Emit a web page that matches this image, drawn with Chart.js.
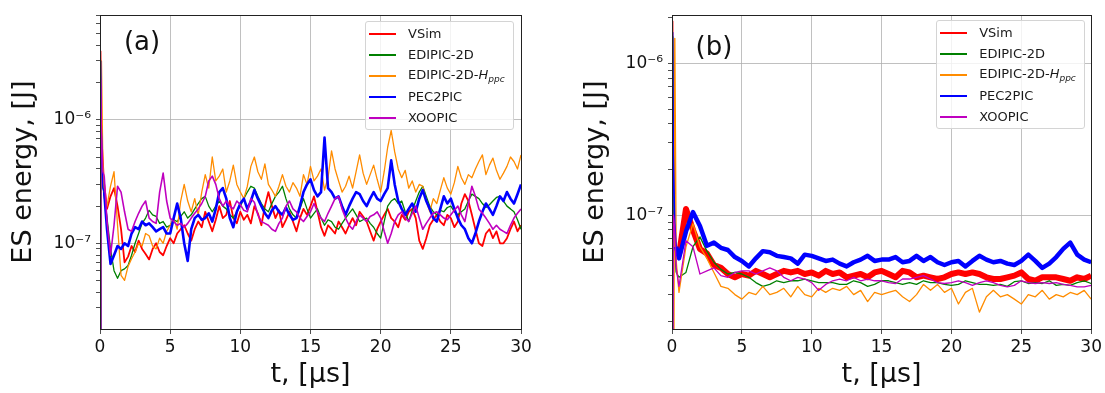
<!DOCTYPE html>
<html>
<head>
<meta charset="utf-8">
<script src="https://cdn.jsdelivr.net/npm/chart.js@4.4.1/dist/chart.umd.min.js"></script>
<style>
    body { margin: 0; background: #fff; font-family: 'DejaVu Sans', sans-serif; }
    #wrap { position: relative; width: 1105px; height: 393px; overflow: hidden; }
    .panel { position: absolute; top: 0; height: 393px; }
    .panel canvas { position: absolute; left: 0; top: 0; }
    .legend {
        position: absolute; width: 149px; height: 109px; box-sizing: border-box;
        border: 1px solid #d4d4d4; border-radius: 3px; background: rgba(255,255,255,0.8);
        padding-top: 1px; font-size: 13px; color: #1a1a1a;
    }
    .row { display: flex; align-items: center; height: 21px; white-space: nowrap; }
    .swatch { width: 27px; height: 0; border-top: 2px solid; margin: 0 12px 0 3px; }
    .row sub { font-size: 9px; font-style: italic; vertical-align: -3px; }
    .tag { position: absolute; font-size: 26px; line-height: 1; color: #111; transform: translate(-50%, -50%); }
</style>
</head>
<body>
<div id="wrap">
    <div class="panel" style="left:0;width:552px">
        <canvas id="chartA" width="552" height="393"></canvas>
        <div class="legend" id="legendA"></div>
        <div class="tag" id="tagA">(a)</div>
    </div>
    <div class="panel" style="left:552px;width:553px">
        <canvas id="chartB" width="553" height="393"></canvas>
        <div class="legend" id="legendB"></div>
        <div class="tag" id="tagB">(b)</div>
    </div>
</div>
<script>
// Codes compared in both panels (legend order)
const seriesNames = ['VSim', 'EDIPIC-2D', 'EDIPIC-2D-H_ppc', 'PEC2PIC', 'XOOPIC'];
const seriesColors = ['#ff0000', '#008000', '#ff8c00', '#0000ff', '#bf00bf'];

// ES energy values are in units of 1e-7 J
const UNIT = 1e-7;

// ---- panel (a): time axis, microseconds
const TA = [0, 0.05, 0.1, 0.2, 0.3,
    0.5, 0.75,
    1, 1.25, 1.5, 1.75, 2, 2.25, 2.5, 2.75, 3, 3.25, 3.5, 3.75,
    4, 4.25, 4.5, 4.75, 5, 5.25, 5.5, 5.75, 6, 6.25, 6.5, 6.75,
    7, 7.25, 7.5, 7.75, 8, 8.25, 8.5, 8.75, 9, 9.25, 9.5, 9.75,
    10, 10.25, 10.5, 10.75, 11, 11.25, 11.5, 11.75, 12, 12.25, 12.5, 12.75,
    13, 13.25, 13.5, 13.75, 14, 14.25, 14.5, 14.75, 15, 15.25, 15.5, 15.75,
    16, 16.25, 16.5, 16.75, 17, 17.25, 17.5, 17.75, 18, 18.25, 18.5, 18.75,
    19, 19.25, 19.5, 19.75, 20, 20.25, 20.5, 20.75, 21, 21.25, 21.5, 21.75,
    22, 22.25, 22.5, 22.75, 23, 23.25, 23.5, 23.75, 24, 24.25, 24.5, 24.75,
    25, 25.25, 25.5, 25.75, 26, 26.25, 26.5, 26.75, 27, 27.25, 27.5, 27.75,
    28, 28.25, 28.5, 28.75, 29, 29.25, 29.5, 29.75, 30];

const vsimA = [0.01, 36, 8, 5, 3,
    1.9, 2.4,
    2.8, 2.0, 1.3, 0.7, 0.78, 0.95, 0.85, 1.05, 0.9, 0.82, 0.74, 0.9,
    1.0, 0.85, 0.8, 0.95, 1.1, 1.0, 1.2, 1.3, 1.4, 1.2, 1.05, 1.3,
    1.5, 1.35, 1.8, 1.5, 1.25, 1.55, 2.0, 1.6, 1.7, 2.2, 1.6, 1.45,
    1.8, 1.55, 1.7, 1.45, 2.0, 1.75, 1.4, 2.0, 2.6, 2.0, 1.6, 1.85,
    1.35, 1.55, 1.8, 1.5, 1.25, 1.6, 1.9, 1.7, 2.0, 2.4, 1.8, 1.35,
    1.15, 1.4, 1.3, 1.2, 1.5, 1.35, 1.2, 1.4, 1.6, 1.4, 1.8, 1.65,
    1.5, 1.25, 1.05, 1.3, 1.5, 1.7, 1.9, 1.6, 1.5, 1.35, 1.7, 1.55,
    1.8, 1.9, 1.6, 1.05, 0.9, 1.1, 1.4, 1.55, 1.7, 1.5, 1.4, 1.7,
    1.6, 1.35, 1.5, 2.1, 2.5, 2.2, 1.7, 1.3, 1.0, 0.95, 1.2, 1.3,
    1.1, 1.25, 1.0, 1.0, 1.1, 1.3, 1.5, 1.25, 1.4];
const edipicA = [0.01, 26, 6, 3.0, 2.4,
    1.6, 0.9,
    0.6, 0.52, 0.6, 0.62, 0.66, 0.8, 1.0, 1.2, 1.45, 1.6, 1.85, 1.7,
    1.65, 1.45, 1.5, 1.35, 1.4, 1.55, 1.5, 1.65, 1.8, 1.6, 1.7, 1.9,
    2.1, 2.3, 2.4, 2.0, 1.8, 2.0, 2.2, 2.0, 1.9, 1.7, 1.6, 1.8,
    2.0, 2.3, 2.6, 2.9, 2.8, 2.4, 2.1, 1.9, 1.8, 2.1, 2.4, 2.6,
    2.9, 2.3, 1.9, 1.7, 1.6, 1.9, 2.3, 1.9, 1.6, 1.75, 1.9, 1.6,
    1.4, 1.55, 1.5, 1.35, 1.3, 1.45, 1.6, 1.75, 1.9, 1.7, 1.5, 1.55,
    1.6, 1.45, 1.35, 1.2, 1.1, 1.5, 2.0, 2.2, 2.3, 2.1, 2.2, 1.8,
    1.5, 1.85, 2.2, 2.6, 2.9, 2.4, 2.0, 1.8, 1.7, 1.85, 1.8, 1.95,
    2.0, 1.8, 1.7, 1.8, 1.9, 2.2, 2.5, 2.4, 2.3, 2.1, 1.95, 2.05,
    2.2, 2.35, 2.4, 2.2, 2.0, 1.9, 1.8, 1.55, 1.3];
const hppcA = [0.01, 0.01, 30, 4.5, 2.6,
    2.0, 2.9,
    3.8, 1.4, 0.55, 0.5, 0.65, 0.75, 0.85, 1.0, 0.95, 1.2, 1.15, 0.95,
    0.9, 1.1, 1.0, 1.25, 1.4, 1.6, 1.3, 2.2, 3.0, 2.2, 1.8, 2.3,
    1.7, 2.6, 3.6, 2.8, 5.0, 3.2, 3.5, 4.0, 2.6, 3.2, 4.3, 3.0,
    2.6, 2.3, 2.9, 4.2, 5.0, 3.8, 3.3, 4.4, 3.0, 2.7, 2.4, 2.9,
    3.6, 2.9, 2.6, 3.1, 2.8, 2.4, 3.6, 3.0, 4.2, 3.2, 3.5, 4.0,
    2.7, 3.4, 5.6, 4.0, 3.2, 2.6, 2.9, 3.5, 2.8, 3.8, 5.2, 3.7,
    3.0, 3.6, 4.3, 3.3, 2.6, 3.8, 6.0, 8.2, 5.5, 4.0, 3.4, 3.9,
    2.8, 3.2, 2.6, 3.0, 2.9, 2.2, 1.8, 2.3, 2.1, 2.7, 3.4, 2.8,
    2.5, 3.1, 4.2, 3.4, 3.0, 3.6, 3.4, 4.0, 4.6, 5.2, 3.6, 4.3,
    4.9, 3.9, 3.3, 3.7, 4.2, 5.0, 4.6, 4.0, 5.2];
const pecA = [0.01, 30, 8, 2.8, 2.6,
    1.3, 0.68,
    0.8, 0.95, 0.9, 1.0, 0.95, 1.2, 1.35, 1.3, 1.5, 1.4, 1.45, 1.35,
    1.25, 1.3, 1.35, 1.2, 1.2, 1.6, 2.1, 1.6, 1.0, 0.72, 1.3, 1.6,
    1.7, 1.55, 1.6, 1.75, 1.5, 1.9, 2.6, 2.8, 2.3, 1.6, 1.35, 1.8,
    2.1, 2.3, 1.9, 2.2, 2.7, 2.3, 2.0, 1.75, 1.6, 1.85, 2.0, 1.8,
    1.7, 1.95, 1.7, 1.55, 1.6, 2.0, 2.6, 3.0, 3.3, 2.7, 2.4, 2.6,
    7.2, 2.8, 2.6, 2.3, 2.4, 2.0, 1.7, 2.0, 2.3, 2.6, 2.5, 2.2,
    2.0, 2.3, 2.6, 2.3, 2.2, 2.5, 2.8, 4.7, 3.0, 2.2, 1.9, 1.7,
    1.9, 2.1, 1.8, 2.3, 2.7, 2.2, 1.9, 1.6, 1.5, 1.9, 2.4, 2.1,
    2.3, 1.9, 1.6, 1.4, 1.3, 1.1, 1.0, 1.2, 1.5, 1.8, 2.1, 1.9,
    1.7, 2.0, 2.4, 2.2, 2.6, 2.3, 2.1, 2.5, 3.0];
const xoopicA = [0.01, 21, 8, 3.8, 3.5,
    1.5, 0.8,
    1.4, 2.9, 2.6, 1.8, 1.3, 1.25, 1.5, 1.75, 2.0, 2.2, 1.6, 1.5,
    1.45, 2.6, 3.7, 2.2, 1.6, 1.5, 1.4, 1.45, 1.35, 1.45, 1.6, 1.75,
    1.9, 2.1, 2.4, 3.2, 3.5, 3.0, 2.3, 2.0, 2.2, 2.0, 1.9, 2.2,
    2.05, 1.85, 1.8, 2.3, 2.15, 1.7, 1.5, 1.45, 1.4, 1.3, 1.25, 1.45,
    1.6, 2.0, 2.2, 1.9, 1.8, 1.6, 1.5, 1.65, 1.8, 2.1, 1.8, 1.6,
    1.5, 1.75, 2.0, 2.3, 2.4, 1.9, 1.6, 1.4, 1.3, 1.5, 1.7, 1.6,
    1.5, 1.65, 1.7, 1.8, 1.6, 1.25, 1.0, 1.2, 1.5, 1.7, 1.8, 1.6,
    1.5, 1.75, 2.0, 1.6, 1.3, 1.45, 1.6, 1.75, 1.8, 1.7, 1.6, 1.55,
    1.7, 1.85, 2.0, 1.7, 1.5, 2.1, 2.9, 2.4, 1.9, 1.75, 1.6, 1.45,
    1.3, 1.4, 1.3, 1.25, 1.2, 1.4, 1.6, 1.75, 1.9];

// ---- panel (b): time axis, microseconds
const TB = [0, 0.05, 0.1, 0.2, 0.3,
    0.5, 1, 1.5, 2, 2.5, 3, 3.5, 4, 4.5, 5,
    5.5, 6, 6.5, 7, 7.5, 8, 8.5, 9, 9.5, 10,
    10.5, 11, 11.5, 12, 12.5, 13, 13.5, 14, 14.5, 15,
    15.5, 16, 16.5, 17, 17.5, 18, 18.5, 19, 19.5, 20,
    20.5, 21, 21.5, 22, 22.5, 23, 23.5, 24, 24.5, 25,
    25.5, 26, 26.5, 27, 27.5, 28, 28.5, 29, 29.5, 30];

const vsimB = [0.01, 19, 2.0, 0.8, 0.6,
    0.55, 1.1, 0.8, 0.60, 0.56, 0.47, 0.45, 0.41, 0.39, 0.41,
    0.40, 0.43, 0.41, 0.39, 0.41, 0.43, 0.42, 0.43, 0.41, 0.42,
    0.40, 0.43, 0.41, 0.42, 0.39, 0.40, 0.41, 0.39, 0.42, 0.43,
    0.41, 0.39, 0.43, 0.42, 0.39, 0.40, 0.39, 0.38, 0.39, 0.41,
    0.42, 0.41, 0.42, 0.41, 0.39, 0.38, 0.38, 0.39, 0.40, 0.42,
    0.38, 0.37, 0.39, 0.39, 0.39, 0.38, 0.37, 0.39, 0.38, 0.40];
const edipicB = [0.01, 15, 1.5, 0.6, 0.42,
    0.39, 0.42, 0.62, 0.72, 0.58, 0.49, 0.44, 0.41, 0.42, 0.41,
    0.39, 0.36, 0.34, 0.35, 0.37, 0.36, 0.37, 0.37, 0.38, 0.37,
    0.36, 0.36, 0.36, 0.35, 0.35, 0.37, 0.36, 0.34, 0.35, 0.37,
    0.37, 0.36, 0.35, 0.36, 0.35, 0.37, 0.36, 0.36, 0.35, 0.345,
    0.35, 0.37, 0.36, 0.35, 0.35, 0.345, 0.35, 0.34, 0.365, 0.37,
    0.355, 0.36, 0.355, 0.37, 0.345, 0.35, 0.345, 0.36, 0.37, 0.355];
const hppcB = [0.01, 0.01, 0.01, 14.6, 0.5,
    0.31, 0.62, 0.88, 0.62, 0.52, 0.42, 0.34, 0.33, 0.30, 0.28,
    0.31, 0.30, 0.34, 0.30, 0.31, 0.33, 0.29, 0.34, 0.30, 0.29,
    0.33, 0.31, 0.33, 0.32, 0.34, 0.30, 0.32, 0.27, 0.31, 0.30,
    0.31, 0.32, 0.29, 0.27, 0.30, 0.35, 0.32, 0.35, 0.31, 0.33,
    0.26, 0.31, 0.33, 0.23, 0.29, 0.32, 0.29, 0.30, 0.28, 0.26,
    0.30, 0.29, 0.32, 0.28, 0.30, 0.29, 0.31, 0.30, 0.32, 0.28];
const pecB = [0.01, 16, 2.5, 0.9, 0.62,
    0.52, 0.78, 1.05, 0.85, 0.63, 0.66, 0.61, 0.59, 0.53, 0.50,
    0.46, 0.52, 0.58, 0.57, 0.54, 0.53, 0.52, 0.48, 0.55, 0.54,
    0.52, 0.50, 0.51, 0.48, 0.46, 0.49, 0.51, 0.54, 0.50, 0.51,
    0.51, 0.53, 0.49, 0.50, 0.54, 0.50, 0.53, 0.49, 0.47, 0.49,
    0.50, 0.46, 0.50, 0.54, 0.51, 0.49, 0.50, 0.48, 0.47, 0.50,
    0.55, 0.50, 0.45, 0.48, 0.53, 0.60, 0.66, 0.55, 0.51, 0.49];
const xoopicB = [0.01, 0.01, 1.0, 0.8, 0.45,
    0.34, 0.68, 0.62, 0.41, 0.43, 0.45, 0.40, 0.39, 0.42, 0.43,
    0.43, 0.41, 0.43, 0.45, 0.43, 0.39, 0.37, 0.39, 0.38, 0.36,
    0.32, 0.35, 0.37, 0.38, 0.37, 0.39, 0.37, 0.38, 0.37, 0.37,
    0.36, 0.355, 0.38, 0.38, 0.39, 0.40, 0.38, 0.36, 0.355, 0.36,
    0.37, 0.36, 0.345, 0.36, 0.37, 0.36, 0.345, 0.337, 0.345, 0.37,
    0.36, 0.355, 0.36, 0.355, 0.36, 0.35, 0.345, 0.337, 0.337, 0.345];

// Axis ticks
const xTicks = [0, 5, 10, 15, 20, 25, 30];
const yMajor = [1e-7, 1e-6];
const yLabels = ['10⁻⁷', '10⁻⁶'];

// first few samples hold the start-up spike, drawn with a thin line
const SPIKE_END = 4;

Chart.defaults.font.family = "'DejaVu Sans', sans-serif";
Chart.defaults.color = '#111';

function toPoints(times, vals) {
    return vals.map((v, i) => ({ x: times[i], y: v * UNIT }));
}

function legendHtml(name) {
    const parts = name.split('_');
    if (parts.length === 1) return name;
    // letter before "_" is italic, subscript italic
    const head = parts[0].slice(0, -1);
    const sym = parts[0].slice(-1);
    return head + '<i>' + sym + '</i><sub>' + parts[1] + '</sub>';
}

function buildLegend(el) {
    seriesNames.forEach((name, i) => {
        const row = document.createElement('div');
        row.className = 'row';
        const sw = document.createElement('span');
        sw.className = 'swatch';
        sw.style.borderTopColor = seriesColors[i];
        const txt = document.createElement('span');
        txt.innerHTML = legendHtml(name);
        row.appendChild(sw);
        row.appendChild(txt);
        el.appendChild(row);
    });
}

// spines on all four sides
const framePlugin = {
    id: 'frame',
    afterDraw(chart) {
        const { ctx, chartArea: a } = chart;
        const l = Math.round(a.left) + 0.5, t = Math.round(a.top) + 0.5;
        const r = Math.round(a.right) + 0.5, b = Math.round(a.bottom) + 0.5;
        ctx.save();
        ctx.strokeStyle = '#222';
        ctx.lineWidth = 1;
        ctx.strokeRect(l, t, r - l, b - t);
        ctx.restore();
    }
};

// keeps the html legend and panel tag tied to the plot area
const overlayPlugin = {
    id: 'overlay',
    afterRender(chart, args, opts) {
        const a = chart.chartArea;
        const legend = document.getElementById(opts.legendId);
        legend.style.left = (a.right - opts.legendGap[0] - legend.offsetWidth) + 'px';
        legend.style.top = (a.top + opts.legendGap[1]) + 'px';
        const tag = document.getElementById(opts.tagId);
        tag.style.left = (a.left + opts.tagPos[0]) + 'px';
        tag.style.top = (a.top + opts.tagPos[1]) + 'px';
    }
};

function makeChart(canvasId, cfg) {
    const datasets = cfg.series.map((vals, i) => ({
        label: seriesNames[i],
        data: toPoints(cfg.times, vals),
        borderColor: seriesColors[i],
        backgroundColor: seriesColors[i],
        borderWidth: cfg.widths[i],
        segment: {
            borderWidth: c => c.p1DataIndex <= SPIKE_END ? 1.4 : cfg.widths[i]
        },
        pointRadius: 0,
        tension: 0,
        borderJoinStyle: 'round',
        fill: false,
        order: seriesNames.length - 1 - i
    }));

    return new Chart(document.getElementById(canvasId), {
        type: 'line',
        data: { datasets: datasets },
        plugins: [framePlugin, overlayPlugin],
        options: {
            responsive: false,
            animation: false,
            events: [],
            layout: { padding: { left: 0, right: cfg.padRight, top: cfg.padTop, bottom: 0 } },
            plugins: {
                legend: { display: false },
                tooltip: { enabled: false },
                overlay: cfg.overlay
            },
            scales: {
                x: {
                    type: 'linear',
                    min: 0,
                    max: 30,
                    afterBuildTicks: scale => { scale.ticks = xTicks.map(v => ({ value: v })); },
                    ticks: { font: { size: 17 }, padding: 3, maxRotation: 0, color: '#111' },
                    grid: { color: '#b0b0b0', lineWidth: 0.8, tickLength: 5, tickColor: '#222' },
                    border: { display: false },
                    title: { display: true, text: 't, [μs]', font: { size: 27 }, padding: { top: 0, bottom: 2 }, color: '#111' },
                    afterFit: scale => { scale.height = 64; }
                },
                y: {
                    type: 'logarithmic',
                    min: cfg.yMin,
                    max: cfg.yMax,
                    afterBuildTicks: scale => {
                        const ticks = [];
                        for (let e = -9; e <= -5; e++) {
                            for (let m = 1; m < 10; m++) {
                                const v = m * Math.pow(10, e);
                                if (v >= cfg.yMin * 0.999 && v <= cfg.yMax * 1.001) ticks.push({ value: v, major: m === 1 });
                            }
                        }
                        scale.ticks = ticks;
                    },
                    ticks: {
                        autoSkip: false,
                        font: { size: 17 },
                        padding: 5,
                        color: '#111',
                        callback: v => {
                            const k = yMajor.findIndex(m => Math.abs(v / m - 1) < 1e-6);
                            return k >= 0 ? yLabels[k] : '';
                        }
                    },
                    grid: {
                        color: c => (c.tick && c.tick.major) ? '#b0b0b0' : 'rgba(0,0,0,0)',
                        lineWidth: 0.8,
                        tickLength: 4,
                        tickColor: '#222'
                    },
                    border: { display: false },
                    title: { display: true, text: 'ES energy, [J]', font: { size: 27 }, padding: { top: cfg.yTitlePad, bottom: 0 }, color: '#111' },
                    afterFit: scale => { scale.width = cfg.yWidth; }
                }
            }
        }
    });
}

buildLegend(document.getElementById('legendA'));
buildLegend(document.getElementById('legendB'));

makeChart('chartA', {
    times: TA,
    series: [vsimA, edipicA, hppcA, pecA, xoopicA],
    widths: [1.8, 1.3, 1.3, 2.6, 1.6],
    yMin: 2.02e-8, yMax: 7.05e-6,
    yWidth: 100, padRight: 31, padTop: 11, yTitlePad: 8,
    overlay: { legendId: 'legendA', tagId: 'tagA', legendGap: [7, 6], tagPos: [42, 26] }
});

makeChart('chartB', {
    times: TB,
    series: [vsimB, edipicB, hppcB, pecB, xoopicB],
    widths: [6, 1.3, 1.3, 4.5, 1.3],
    yMin: 1.78e-8, yMax: 2.08e-6,
    yWidth: 120, padRight: 13, padTop: 12, yTitlePad: 28,
    overlay: { legendId: 'legendB', tagId: 'tagB', legendGap: [6, 5], tagPos: [42, 31] }
});
</script>
</body>
</html>
